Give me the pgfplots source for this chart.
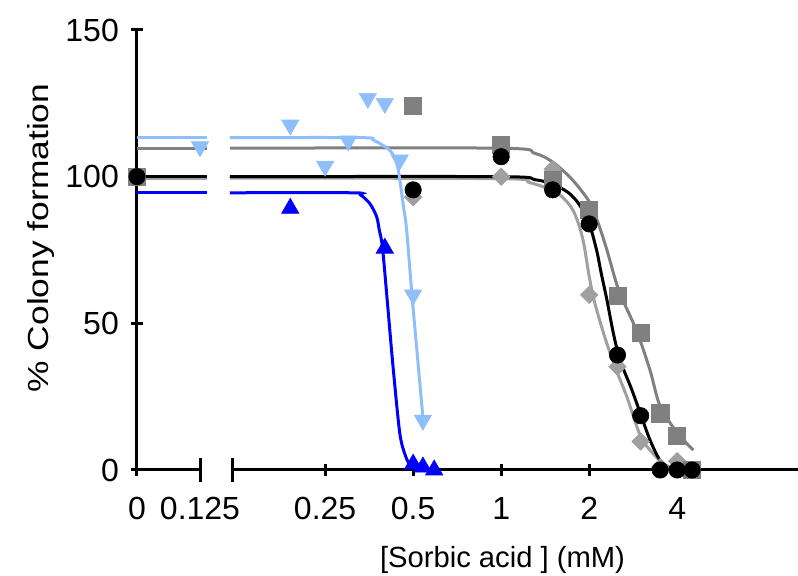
\documentclass[border=0pt]{standalone}
\usepackage{pgfplots}
\pgfplotsset{compat=1.18}
\usepackage{fontspec}
\setmainfont{Liberation Sans}

\definecolor{lblue}{HTML}{8EBFFA}
\definecolor{dgrey}{HTML}{808080}
\definecolor{lgrey}{HTML}{A0A0A0}

\pgfplotsset{
  base/.style={
    scale only axis, height=220pt, ymin=0, ymax=150, clip=false,
    line width=1.5pt,
    tick style={line width=1.5pt, black},
    major tick length=6pt,
    tick align=outside,
    tick label style={font=\fontsize{16}{19}\selectfont},
    xticklabel style={yshift=-6.5pt},
    yticklabel style={xshift=-2pt},
    /pgf/number format/assume math mode=true,
    every axis plot/.append style={line width=1.5pt},
  },
  nolinearrows/.style={
    axis line style={-, line width=1.5pt},
    every outer x axis line/.append style={-, line width=1.5pt},
    every outer y axis line/.append style={-, line width=1.5pt},
  },
  circ/.style={only marks, mark=*, mark size=4.1pt, mark options={line width=0.3pt}},
  sq/.style={only marks, mark=square*, mark size=4.3pt, mark options={line width=0.3pt}},
  dia/.style={only marks, mark=square*, mark size=3.1pt, mark options={rotate=45, line width=0.3pt}},
  tup/.style={only marks, mark=triangle*, mark size=5pt, mark options={line width=0.3pt}},
  tdn/.style={only marks, mark=triangle*, mark size=5pt, mark options={rotate=180, line width=0.3pt}},
}

\begin{document}
\begin{tikzpicture}
\useasboundingbox (0,0) rectangle (399pt,288pt);

% left part: 0 and 0.125
\begin{axis}[base, at={(68.5pt,53pt)}, anchor=south west, width=31.5pt,
  xmin=0, xmax=0.125, axis x line=bottom, axis y line=left, nolinearrows,
  xtick={0,0.125}, xticklabels={0,0.125}, ytick={0,50,100,150}]
\addplot[lgrey] coordinates {(0,99.5) (0.138,99.5)};
\addplot[dgrey] coordinates {(0,109.7) (0.138,109.7)};
\addplot[black] coordinates {(0,100) (0.138,100)};
\addplot[lblue] coordinates {(0,113.3) (0.138,113.3)};
\addplot[blue] coordinates {(0,94.5) (0.138,94.5)};
\addplot[sq, dgrey] coordinates {(0,100)};
\addplot[circ, black] coordinates {(0,100)};
\addplot[tdn, lblue] coordinates {(0.125,110.2)};
\draw[line width=1.5pt] ([yshift=6pt]axis cs:0.125,0) -- ([yshift=-6pt]axis cs:0.125,0);
\end{axis}

% right part: log scale
\begin{axis}[base, at={(116.5pt,53pt)}, anchor=south west, width=282.5pt,
  xmode=log, log basis x=2, xmin=0.121, xmax=10.36,
  axis x line=bottom, axis y line=none, nolinearrows, ytick=\empty,
  xtick={0.25,0.5,1,2,4}, xticklabels={0.25,0.5,1,2,4}]
% light grey diamonds
\addplot[lgrey, smooth] coordinates {
  (0.118,99.5) (1.0,99.3) (1.25,98) (1.55,94.5) (1.76,88.6) (1.9,79)
  (2.0,66) (2.09,57) (2.25,46) (2.45,35.2) (2.69,25) (3.0,11.4)
  (3.3,5.7) (3.58,2.3) (3.8,1) (4.5,0)};
\addplot[dia, lgrey] coordinates {
  (0.5,93) (1.0,100) (1.5,102.5) (2.0,59.7) (2.5,35.2) (3.0,9.7)
  (3.5,1) (4.0,3)};
% dark grey squares
\addplot[dgrey, smooth] coordinates {
  (0.118,109.7) (1.0,109.7) (1.3,108) (1.5,105) (1.75,99) (2.0,91.5)
  (2.15,84) (2.3,75) (2.53,61) (2.9,47.7) (3.23,34) (3.49,22)
  (3.98,13) (4.54,6.8)};
\addplot[sq, dgrey] coordinates {
  (0.5,124.1) (1.0,110.8) (1.5,98.9) (2.0,88.6) (2.5,59.3) (3.0,46.8)
  (3.5,19.3) (4.0,11.7) (4.5,0)};
% black circles
\addplot[black, smooth] coordinates {
  (0.118,100) (1.0,100) (1.3,99) (1.5,97.5) (1.7,94.5) (1.85,90.5)
  (2.0,84) (2.12,75) (2.2,67) (2.3,58) (2.42,46.6) (2.55,37.5)
  (2.8,27.3) (3.02,18.2) (3.23,10.2) (3.49,3.4) (3.78,0.6) (4.5,0)};
\addplot[circ, black] coordinates {
  (0.5,95.5) (1.0,106.8) (1.5,95.5) (2.0,83.9) (2.5,39.2) (3.0,18.5)
  (3.5,0) (4.0,0) (4.5,0)};
% light blue down triangles
\addplot[lblue, smooth] coordinates {
  (0.118,113.3) (0.33,113.3) (0.365,112.5) (0.416,109) (0.439,104.6)
  (0.45,99) (0.463,90) (0.475,81.8) (0.495,60) (0.518,38) (0.541,17)};
\addplot[tdn, lblue] coordinates {
  (0.19,117.6) (0.25,103.6) (0.3,112.2) (0.35,126.7) (0.4,125)
  (0.45,105.7) (0.5,59.7) (0.54,17)};
% blue up triangles
\addplot[blue, smooth] coordinates {
  (0.118,94.5) (0.31,94.5) (0.33,93.8) (0.355,90.9) (0.375,86.4)
  (0.383,81.8) (0.393,75.6) (0.41,55) (0.427,35) (0.45,12.6)
  (0.47,5) (0.49,1.5) (0.52,0.3) (0.59,0)};
\addplot[tup, blue] coordinates {
  (0.19,89.2) (0.4,75.6) (0.5,2) (0.54,1) (0.59,0)};
\draw[line width=1.5pt] ([yshift=6pt]axis cs:0.121,0) -- ([yshift=-6pt]axis cs:0.121,0);
\end{axis}

\node[anchor=base, font=\fontsize{14.6}{17}\selectfont] at (251.25pt,4pt) {[Sorbic acid ] (mM)};
\node[rotate=90, anchor=base, font=\fontsize{14.5}{17}\selectfont] at (24pt,169pt) {\scalebox{1.22}[1]{\% Colony formation}};
\end{tikzpicture}
\end{document}
